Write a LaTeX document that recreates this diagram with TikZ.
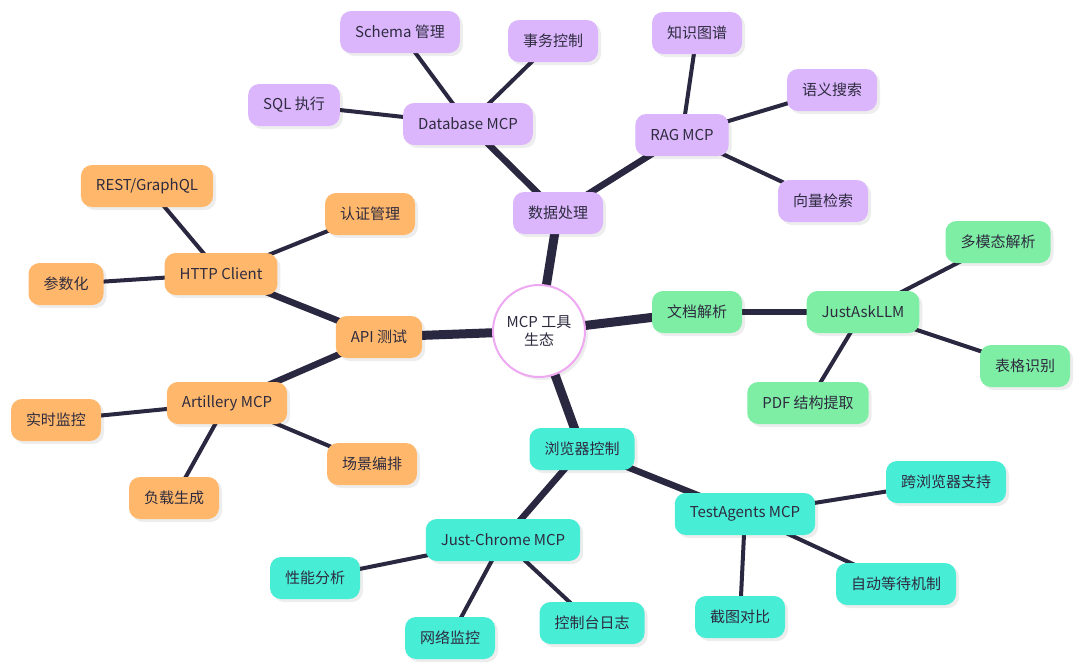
\documentclass[tikz,border=0pt]{standalone}
\usepackage{fontspec}
\setmainfont{Noto Sans CJK SC}
\usetikzlibrary{backgrounds,shadows}
\definecolor{ink}{HTML}{2A2740}
\definecolor{txt}{HTML}{2E2B3F}
\definecolor{lilac}{HTML}{DBB6FC}
\definecolor{apricot}{HTML}{FFB86B}
\definecolor{mint}{HTML}{7DEEA4}
\definecolor{aqua}{HTML}{48EDD6}
\definecolor{rim}{HTML}{EFA8F2}
\tikzset{
  topic/.style={rounded corners=11pt, minimum height=42pt, inner xsep=15pt,
    text=txt, font=\fontsize{15}{18}\selectfont,
    drop shadow={shadow xshift=3pt, shadow yshift=-3pt, fill=black, opacity=0.07}},
  data/.style={topic, fill=lilac},
  api/.style={topic, fill=apricot},
  doc/.style={topic, fill=mint},
  web/.style={topic, fill=aqua},
  trunk/.style={ink, line width=9pt},
  limb/.style={ink, line width=6.5pt},
  twig/.style={ink, line width=4pt}
}
\begin{document}
\begin{tikzpicture}[x=1pt, y=-1pt]
  \useasboundingbox (0,0) rectangle (1080,670);
  % hub
  \node[circle, draw=rim, line width=2pt, fill=white, minimum size=92pt, text=txt,
        align=center, font=\fontsize{15}{18}\selectfont,
        drop shadow={shadow xshift=3pt, shadow yshift=-3pt, fill=black, opacity=0.07}]
        (core) at (539,331) {MCP 工具\\生态};
  % data branch
  \node[data] (dp) at (558,213) {数据处理};
  \node[data] (db) at (468,124) {Database MCP};
  \node[data] (sql) at (294,105) {SQL 执行};
  \node[data] (schema) at (400,32) {Schema 管理};
  \node[data] (tx) at (553,41) {事务控制};
  \node[data] (rag) at (682,135) {RAG MCP};
  \node[data] (kg) at (697,33) {知识图谱};
  \node[data] (sem) at (832,90) {语义搜索};
  \node[data] (vec) at (823,201) {向量检索};
  % document branch
  \node[doc] (dparse) at (697,312) {文档解析};
  \node[doc] (llm) at (863,312) {JustAskLLM};
  \node[doc] (multi) at (998,242) {多模态解析};
  \node[doc] (table) at (1025,366) {表格识别};
  \node[doc] (pdf) at (808,403) {PDF 结构提取};
  % api branch
  \node[api] (apit) at (379,337) {API 测试};
  \node[api] (http) at (221,274) {HTTP Client};
  \node[api] (rest) at (147,186) {REST/GraphQL};
  \node[api] (auth) at (370,214) {认证管理};
  \node[api] (param) at (66,284) {参数化};
  \node[api] (art) at (227,403) {Artillery MCP};
  \node[api] (live) at (56,420) {实时监控};
  \node[api] (load) at (174,498) {负载生成};
  \node[api] (scene) at (372,464) {场景编排};
  % browser branch
  \node[web] (bc) at (582,449) {浏览器控制};
  \node[web] (chrome) at (503,540) {Just-Chrome MCP};
  \node[web] (perf) at (315,578) {性能分析};
  \node[web] (net) at (450,638) {网络监控};
  \node[web] (cons) at (592,623) {控制台日志};
  \node[web] (ta) at (745,514) {TestAgents MCP};
  \node[web] (cross) at (946,482) {跨浏览器支持};
  \node[web] (wait) at (896,584) {自动等待机制};
  \node[web] (shot) at (740,617) {截图对比};
  % connectors behind the boxes
  \begin{pgfonlayer}{background}
    \fill[white] (0,0) rectangle (1080,670);
    \draw[trunk] (core.center) -- (dp.center);
    \draw[trunk] (core.center) -- (dparse.center);
    \draw[trunk] (core.center) -- (apit.center);
    \draw[trunk] (core.center) -- (bc.center);
    \draw[limb] (dp.center) -- (db.center);
    \draw[limb] (dp.center) -- (rag.center);
    \draw[limb] (dparse.center) -- (llm.center);
    \draw[limb] (apit.center) -- (http.center);
    \draw[limb] (apit.center) -- (art.center);
    \draw[limb] (bc.center) -- (chrome.center);
    \draw[limb] (bc.center) -- (ta.center);
    \foreach \a/\b in {db/sql, db/schema, db/tx, rag/kg, rag/sem, rag/vec,
                       llm/multi, llm/table, llm/pdf,
                       http/rest, http/auth, http/param, art/live, art/load, art/scene,
                       chrome/perf, chrome/net, chrome/cons, ta/cross, ta/wait, ta/shot}
      \draw[twig] (\a.center) -- (\b.center);
  \end{pgfonlayer}
\end{tikzpicture}
\end{document}
